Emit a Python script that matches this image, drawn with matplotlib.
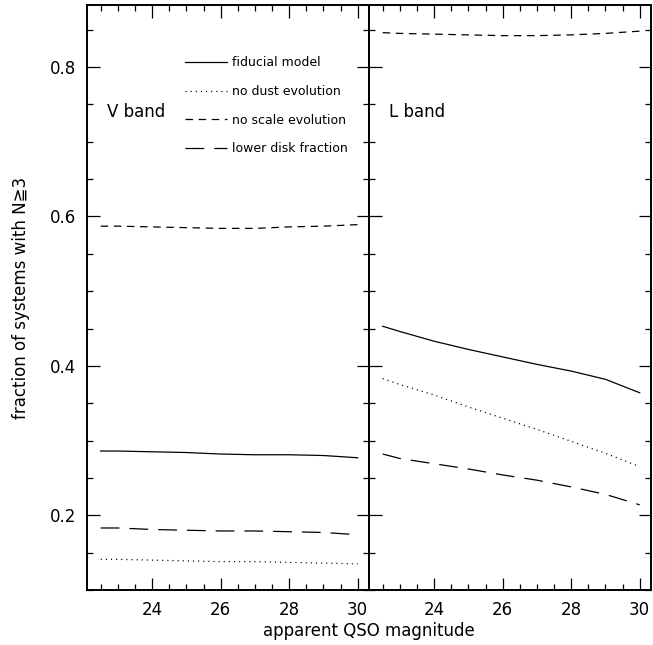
import matplotlib
matplotlib.use("Agg")
import matplotlib.pyplot as plt
from matplotlib.ticker import MultipleLocator

# ---- data ----
mag = [22.5, 23, 24, 25, 26, 27, 28, 29, 30]

v_fiducial = [0.286, 0.286, 0.285, 0.284, 0.282, 0.281, 0.281, 0.280, 0.277]
v_nodust   = [0.141, 0.141, 0.140, 0.139, 0.138, 0.138, 0.137, 0.136, 0.135]
v_noscale  = [0.587, 0.587, 0.586, 0.585, 0.584, 0.584, 0.586, 0.587, 0.589]
v_lowdisk  = [0.183, 0.183, 0.181, 0.180, 0.179, 0.179, 0.178, 0.177, 0.174]

l_fiducial = [0.453, 0.446, 0.433, 0.422, 0.412, 0.402, 0.393, 0.382, 0.364]
l_nodust   = [0.383, 0.375, 0.361, 0.345, 0.330, 0.315, 0.299, 0.283, 0.265]
l_noscale  = [0.846, 0.845, 0.844, 0.843, 0.842, 0.842, 0.843, 0.845, 0.848]
l_lowdisk  = [0.282, 0.276, 0.269, 0.262, 0.254, 0.247, 0.238, 0.228, 0.214]

labels = ["fiducial model", "no dust evolution", "no scale evolution", "lower disk fraction"]
panel_names = ["V band", "L band"]

# ---- styles ----
lw = 0.9
styles = [
    dict(linestyle="-"),
    dict(linestyle=(0, (0.9, 3.2))),
    dict(linestyle=(0, (6.0, 4.5))),
    dict(linestyle=(0, (15.0, 8.0))),
]

plt.rcParams["font.family"] = ["DejaVu Sans"]
fig = plt.figure(figsize=(6.53, 6.45), dpi=100)

left0 = 87 / 653
pw = 282 / 653
bottom = 55 / 645
height = 585 / 645
ax1 = fig.add_axes([left0, bottom, pw, height])
ax2 = fig.add_axes([left0 + pw, bottom, pw, height])

panels = [
    (ax1, [v_fiducial, v_nodust, v_noscale, v_lowdisk]),
    (ax2, [l_fiducial, l_nodust, l_noscale, l_lowdisk]),
]

for i, (ax, series) in enumerate(panels):
    for s, st, lab in zip(series, styles, labels):
        ax.plot(mag, s, color="black", lw=lw, label=lab, **st)
    ax.set_xlim(22.1, 30.33)
    ax.set_ylim(0.1, 0.883)
    ax.xaxis.set_major_locator(MultipleLocator(2))
    ax.xaxis.set_minor_locator(MultipleLocator(0.5))
    ax.yaxis.set_major_locator(MultipleLocator(0.2))
    ax.yaxis.set_minor_locator(MultipleLocator(0.05))
    ax.tick_params(which="both", direction="in", top=True, right=True,
                   width=0.9, colors="black")
    ax.tick_params(which="major", length=9, pad=8, labelsize=12)
    ax.tick_params(which="minor", length=4.5)
    for sp in ax.spines.values():
        sp.set_linewidth(1.4)
    ax.text(0.07, 0.817, panel_names[i], transform=ax.transAxes,
            fontsize=12, ha="left", va="center")
    if i == 1:
        ax.tick_params(axis="y", labelleft=False)

ax1.set_ylabel("fraction of systems with N\u22673", fontsize=12, labelpad=14)
fig.text((left0 + pw), 14 / 645, "apparent QSO magnitude", fontsize=12,
         ha="center", va="center")

ax1.legend(loc="upper left", bbox_to_anchor=(0.3475, 0.912), frameon=False,
           fontsize=9, handlelength=3.4, handletextpad=0.35, labelspacing=1.25,
           borderpad=0, borderaxespad=0)

fig.savefig("out.png", dpi=100)
